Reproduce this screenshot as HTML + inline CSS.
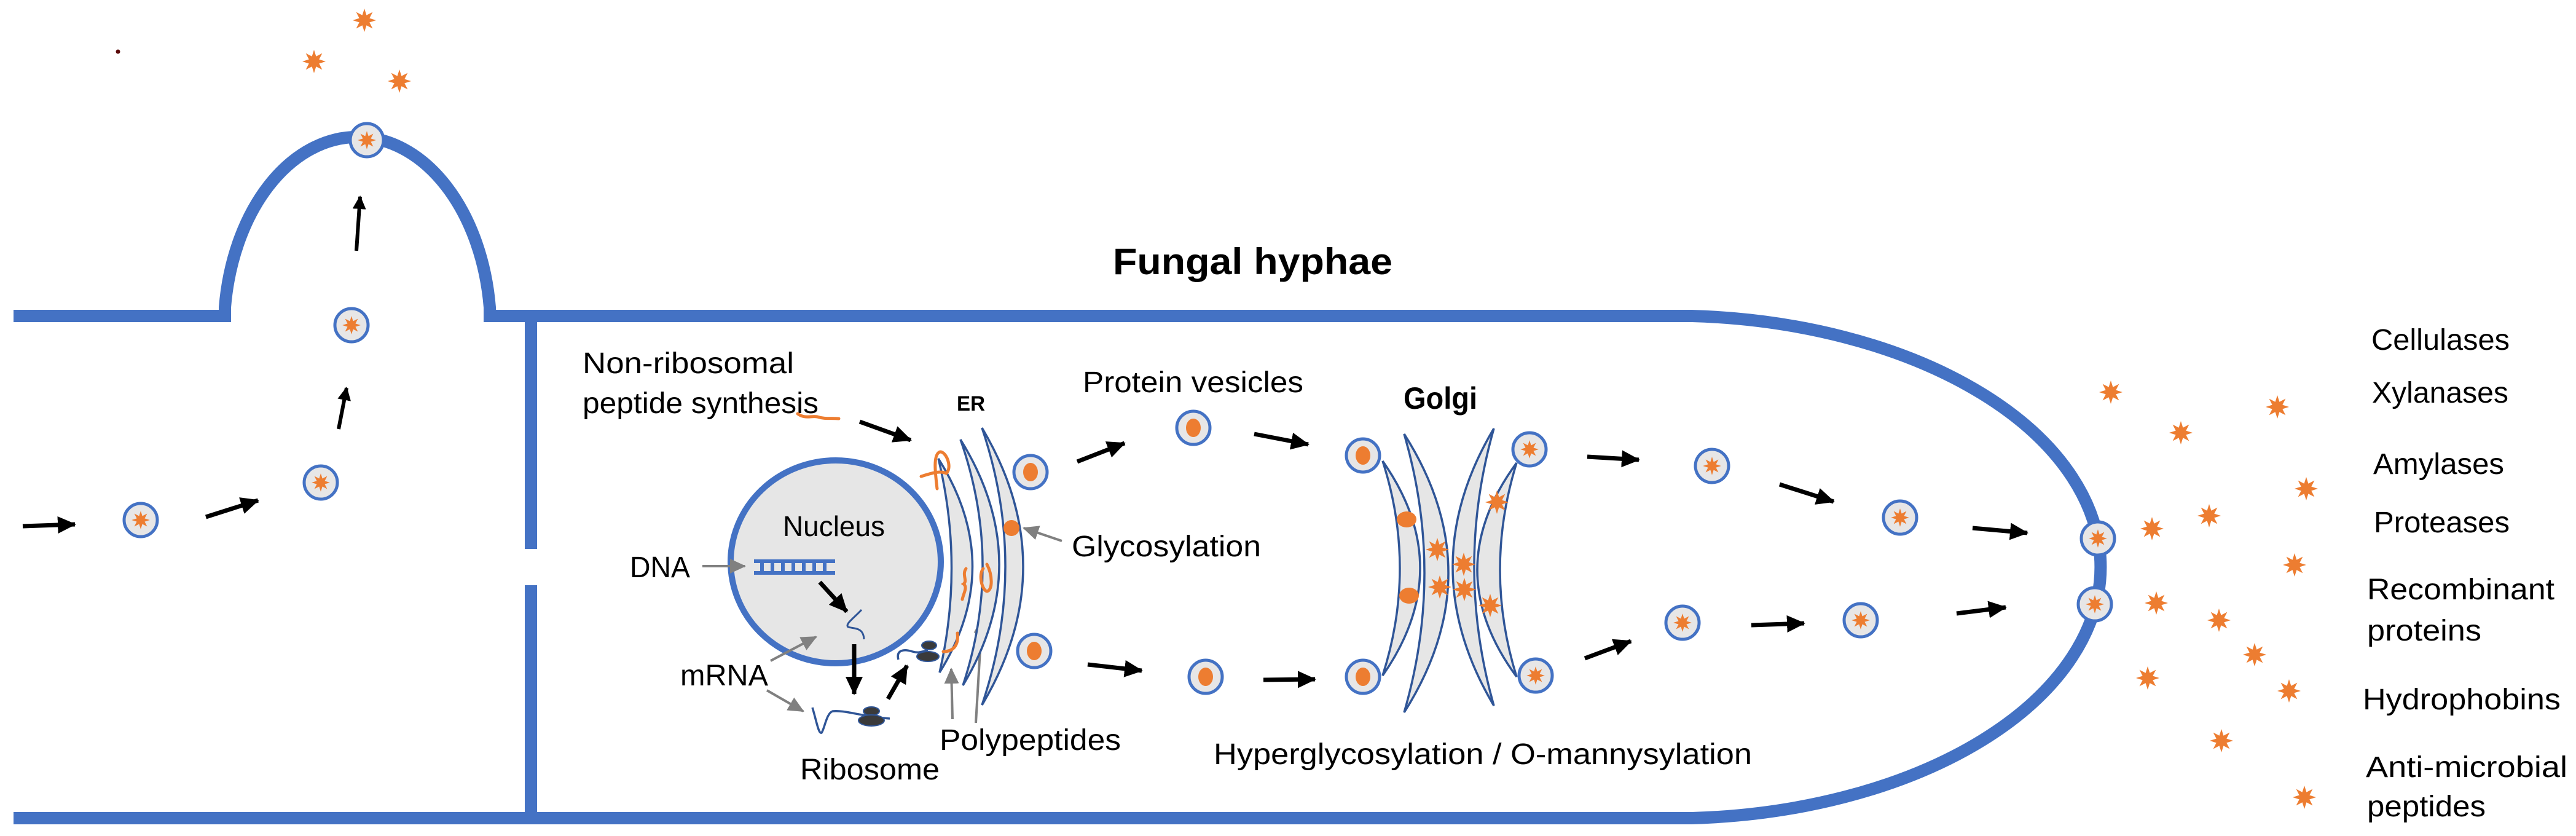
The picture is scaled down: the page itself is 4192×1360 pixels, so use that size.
<!DOCTYPE html>
<html><head><meta charset="utf-8"><style>
html,body{margin:0;padding:0;background:#fff}
svg{display:block}
text{font-family:"Liberation Sans",sans-serif;fill:#000}
</style></head><body>
<svg width="4192" height="1360" viewBox="0 0 4192 1360" xmlns="http://www.w3.org/2000/svg">
<defs>
<polygon id="st" points="0,-19 3.4,-8.3 13.4,-13.4 8.3,-3.4 19,0 8.3,3.4 13.4,13.4 3.4,8.3 0,19 -3.4,8.3 -13.4,13.4 -8.3,3.4 -19,0 -8.3,-3.4 -13.4,-13.4 -3.4,-8.3" fill="#ED7D31"/>
<g id="vs"><circle r="27" fill="#E7E6E6" stroke="#4472C4" stroke-width="5"/><g transform="scale(0.78)"><use href="#st"/></g></g>
<g id="vd"><circle r="27" fill="#E7E6E6" stroke="#4472C4" stroke-width="5"/><ellipse rx="12" ry="15" fill="#ED7D31"/></g>
<marker id="ah" markerUnits="userSpaceOnUse" markerWidth="30" markerHeight="28" refX="28" refY="14" orient="auto"><path d="M0,0 L30,14 L0,28 z" fill="#000"/></marker>
<marker id="ahs" markerUnits="userSpaceOnUse" markerWidth="22" markerHeight="22" refX="20" refY="11" orient="auto"><path d="M0,0 L22,11 L0,22 z" fill="#000"/></marker>
<marker id="ag" markerUnits="userSpaceOnUse" markerWidth="26" markerHeight="24" refX="24" refY="12" orient="auto"><path d="M0,0 L26,12 L0,24 z" fill="#808080"/></marker>
</defs>

<!-- membranes -->
<g fill="none" stroke="#4472C4" stroke-width="20">
<path d="M22,514 L366,514 L366,500 A217 314 0 0 1 797,500 L797,514 L2753,514 A700 409 0 0 1 2753,1331 L22,1331"/>
<line x1="864" y1="514" x2="864" y2="893"/>
<line x1="864" y1="952" x2="864" y2="1331"/>
</g>

<!-- left region -->
<circle cx="192" cy="84" r="3.5" fill="#5a0a0a"/>
<use href="#st" x="593" y="33"/><use href="#st" x="511" y="100"/><use href="#st" x="650" y="132"/>
<use href="#vs" x="597" y="228"/><use href="#vs" x="572" y="529"/><use href="#vs" x="522" y="785"/><use href="#vs" x="229" y="846"/>
<g stroke="#000" stroke-width="7" marker-end="url(#ah)">
<line x1="37" y1="856" x2="122" y2="853"/>
<line x1="335" y1="841" x2="420" y2="814"/>
</g>
<g stroke="#000" stroke-width="6" marker-end="url(#ahs)">
<line x1="551" y1="698" x2="564" y2="631"/>
<line x1="580" y1="408" x2="586" y2="320"/>
</g>

<!-- title -->
<text x="1811" y="446" font-size="60" font-weight="bold" textLength="455" lengthAdjust="spacingAndGlyphs">Fungal hyphae</text>

<!-- labels -->
<g font-size="48">
<text x="948" y="607" textLength="344" lengthAdjust="spacingAndGlyphs">Non-ribosomal</text>
<text x="948" y="672" textLength="384" lengthAdjust="spacingAndGlyphs">peptide synthesis</text>
<text x="1762" y="638" textLength="359" lengthAdjust="spacingAndGlyphs">Protein vesicles</text>
<text x="1744" y="905" textLength="308" lengthAdjust="spacingAndGlyphs">Glycosylation</text>
<text x="1529" y="1220" textLength="295" lengthAdjust="spacingAndGlyphs">Polypeptides</text>
<text x="1302" y="1268" textLength="227" lengthAdjust="spacingAndGlyphs">Ribosome</text>
<text x="1975" y="1243" textLength="876" lengthAdjust="spacingAndGlyphs">Hyperglycosylation / O-mannysylation</text>
<text x="1025" y="939" textLength="98" lengthAdjust="spacingAndGlyphs">DNA</text>
<text x="1107" y="1115" textLength="143" lengthAdjust="spacingAndGlyphs">mRNA</text>
</g>
<text x="1557" y="668" font-size="34" font-weight="bold" textLength="46" lengthAdjust="spacingAndGlyphs">ER</text>
<text x="2284" y="665" font-size="50" font-weight="bold" textLength="120" lengthAdjust="spacingAndGlyphs">Golgi</text>

<!-- right labels -->
<g font-size="48">
<text x="3859" y="569" textLength="225" lengthAdjust="spacingAndGlyphs">Cellulases</text>
<text x="3860" y="655" textLength="222" lengthAdjust="spacingAndGlyphs">Xylanases</text>
<text x="3862" y="771" textLength="213" lengthAdjust="spacingAndGlyphs">Amylases</text>
<text x="3863" y="866" textLength="221" lengthAdjust="spacingAndGlyphs">Proteases</text>
<text x="3852" y="975" textLength="305" lengthAdjust="spacingAndGlyphs">Recombinant</text>
<text x="3852" y="1042" textLength="186" lengthAdjust="spacingAndGlyphs">proteins</text>
<text x="3845" y="1154" textLength="322" lengthAdjust="spacingAndGlyphs">Hydrophobins</text>
<text x="3850" y="1264" textLength="328" lengthAdjust="spacingAndGlyphs">Anti-microbial</text>
<text x="3852" y="1328" textLength="193" lengthAdjust="spacingAndGlyphs">peptides</text>
</g>

<!-- nucleus -->
<ellipse cx="1360" cy="914" rx="171" ry="165" fill="#E6E6E6" stroke="#4472C4" stroke-width="10"/>
<text x="1274" y="872" font-size="46" textLength="166" lengthAdjust="spacingAndGlyphs">Nucleus</text>
<!-- DNA ladder -->
<g fill="#4472C4">
<rect x="1227" y="910" width="132" height="6"/><rect x="1227" y="929" width="132" height="6"/>
<rect x="1237" y="914" width="6" height="17"/><rect x="1254" y="914" width="6" height="17"/><rect x="1271" y="914" width="6" height="17"/><rect x="1288" y="914" width="6" height="17"/><rect x="1305" y="914" width="6" height="17"/><rect x="1322" y="914" width="6" height="17"/><rect x="1339" y="914" width="6" height="17"/>
</g>
<path d="M1402,992 C1390,1005 1375,1015 1380,1020 C1390,1023 1405,1020 1406,1040" fill="none" stroke="#2F5597" stroke-width="3"/>
<!-- gray arrows -->
<g stroke="#808080" stroke-width="4" marker-end="url(#ag)">
<line x1="1143" y1="921" x2="1212" y2="921"/>
<line x1="1254" y1="1075" x2="1328" y2="1036"/>
<line x1="1248" y1="1123" x2="1307" y2="1157"/>
<line x1="1728" y1="880" x2="1666" y2="859"/>
<line x1="1550" y1="1170" x2="1548" y2="1088"/>
<line x1="1588" y1="1176" x2="1598" y2="1006"/>
</g>
<!-- black arrows -->
<g stroke="#000" stroke-width="7" marker-end="url(#ah)">
<line x1="1334" y1="947" x2="1378" y2="995"/>
<line x1="1390" y1="1048" x2="1390" y2="1129"/>
<line x1="1445" y1="1137" x2="1476" y2="1083"/>
<line x1="1399" y1="686" x2="1482" y2="716"/>
<line x1="1753" y1="751" x2="1830" y2="721"/>
<line x1="2041" y1="706" x2="2129" y2="723"/>
<line x1="1770" y1="1081" x2="1858" y2="1091"/>
<line x1="2056" y1="1106" x2="2140" y2="1105"/>
<line x1="2583" y1="743" x2="2667" y2="748"/>
<line x1="2579" y1="1071" x2="2654" y2="1043"/>
<line x1="2896" y1="788" x2="2984" y2="816"/>
<line x1="3210" y1="859" x2="3299" y2="867"/>
<line x1="2850" y1="1017" x2="2936" y2="1014"/>
<line x1="3184" y1="998" x2="3264" y2="988"/>
</g>
<!-- bottom mRNA + ribosome -->
<path d="M1322,1151 C1328,1170 1332,1195 1337,1192 C1342,1185 1345,1160 1355,1157 C1375,1155 1400,1165 1448,1169" fill="none" stroke="#2F5597" stroke-width="3.5"/>
<ellipse cx="1418" cy="1157" rx="13" ry="7" fill="#3A3A3A" stroke="#2F5597" stroke-width="2"/>
<ellipse cx="1418" cy="1172" rx="21" ry="9" fill="#3A3A3A" stroke="#2F5597" stroke-width="2"/>

<!-- ER -->
<g fill="#E6E6E6" stroke="#2F5597" stroke-width="3.5">
<path d="M1598,696 Q1732,922 1598,1147 Q1674,922 1598,696 Z"/>
<path d="M1563,715 Q1687,915 1567,1115 Q1633,915 1563,715 Z"/>
<path d="M1527,746 Q1637,920 1529,1094 Q1569,920 1527,746 Z"/>
</g>
<!-- ER ribosome -->
<path d="M1462,1073 C1458,1058 1470,1055 1485,1060 C1495,1063 1500,1060 1510,1058" fill="none" stroke="#2F5597" stroke-width="3.5"/>
<ellipse cx="1512" cy="1050" rx="12" ry="7" fill="#3A3A3A" stroke="#2F5597" stroke-width="2"/>
<ellipse cx="1510" cy="1068" rx="18" ry="8" fill="#3A3A3A" stroke="#2F5597" stroke-width="2"/>
<!-- orange squiggles -->
<g fill="none" stroke="#ED7D31" stroke-width="5" stroke-linecap="round">
<path d="M1298,673 C1310,682 1320,676 1330,678 C1342,682 1352,680 1365,681"/>
<path d="M1499,775 C1515,770 1530,765 1540,770 C1550,760 1540,735 1530,735 C1518,738 1522,770 1525,795"/>
<path d="M1572,925 C1565,935 1575,945 1568,950 C1575,955 1568,965 1566,975"/>
<path d="M1600,925 C1592,935 1598,960 1606,962 C1616,960 1615,935 1606,918"/>
<path d="M1558,1030 C1560,1045 1555,1060 1535,1060"/>
</g>
<circle cx="1646" cy="859" r="13" fill="#ED7D31"/>
<use href="#vd" x="1677" y="768"/><use href="#vd" x="1683" y="1059"/>
<use href="#vd" x="1942" y="696"/><use href="#vd" x="1962" y="1101"/>

<!-- Golgi -->
<g fill="#E6E6E6" stroke="#2F5597" stroke-width="3.5">
<path d="M2285,706 Q2429,932 2285,1159 Q2351,932 2285,706 Z"/>
<path d="M2250,750 Q2372,924 2250,1099 Q2306,924 2250,750 Z"/>
<path d="M2431,697 Q2297,922 2431,1148 Q2367,922 2431,697 Z"/>
<path d="M2468,753 Q2340,927 2468,1101 Q2414,927 2468,753 Z"/>
</g>
<ellipse cx="2289" cy="845" rx="16" ry="13" fill="#ED7D31"/>
<ellipse cx="2293" cy="969" rx="16" ry="13" fill="#ED7D31"/>
<use href="#st" x="2339" y="894"/><use href="#st" x="2382" y="918"/><use href="#st" x="2343" y="955"/><use href="#st" x="2383" y="959"/><use href="#st" x="2436" y="817"/><use href="#st" x="2425" y="985"/>
<use href="#vd" x="2218" y="741"/><use href="#vd" x="2218" y="1101"/>
<use href="#vs" x="2489" y="731"/><use href="#vs" x="2499" y="1099"/>

<!-- right vesicles -->
<use href="#vs" x="2786" y="758"/><use href="#vs" x="3092" y="842"/><use href="#vs" x="3414" y="876"/>
<use href="#vs" x="2738" y="1013"/><use href="#vs" x="3028" y="1009"/><use href="#vs" x="3409" y="983"/>

<!-- secreted stars -->
<use href="#st" x="3435" y="638"/><use href="#st" x="3706" y="662"/><use href="#st" x="3549" y="704"/><use href="#st" x="3753" y="795"/><use href="#st" x="3595" y="839"/><use href="#st" x="3502" y="860"/><use href="#st" x="3734" y="919"/><use href="#st" x="3509" y="981"/><use href="#st" x="3611" y="1009"/><use href="#st" x="3669" y="1065"/><use href="#st" x="3495" y="1103"/><use href="#st" x="3725" y="1124"/><use href="#st" x="3615" y="1205"/><use href="#st" x="3750" y="1297"/>
</svg>
</body></html>
